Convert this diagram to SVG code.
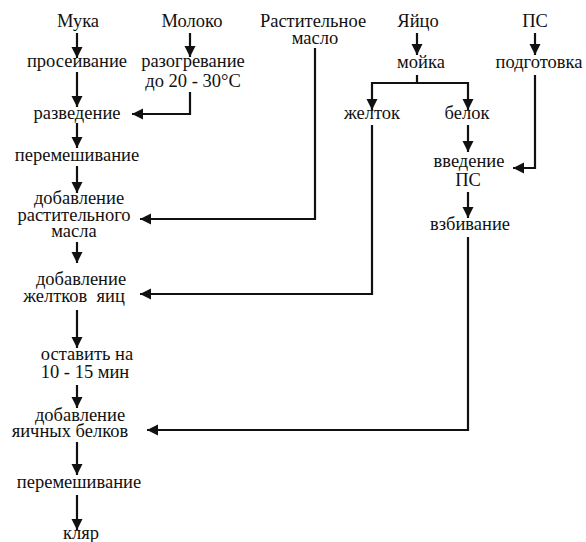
<svg xmlns="http://www.w3.org/2000/svg" width="586" height="542" viewBox="0 0 586 542">
<style>
text{font-family:'Liberation Serif','DejaVu Serif',serif;font-size:18.5px;fill:#111;text-anchor:middle;white-space:pre}
.c path{fill:none;stroke:#111;stroke-width:2.2;marker-end:url(#ah)}
</style>
<defs>
<marker id="ah" markerUnits="userSpaceOnUse" markerWidth="12" markerHeight="12" refX="11" refY="6" orient="auto">
<path d="M0,0.5 L11,6 L0,11.5 z" fill="#111" stroke="none"/>
</marker>
</defs>
<rect width="586" height="542" fill="#fff"/>
<g class="c" id="connectors">
<path d="M77,33 V58"/>
<path d="M190,33 V57"/>
<path d="M77,72 V107"/>
<path d="M190,92 V114 H132"/>
<path d="M77,123 V148"/>
<path d="M77,166 V193"/>
<path d="M315,48 V219 H140"/>
<path d="M77,242 V263"/>
<path d="M417,33 V55"/>
<path d="M417,75 V83 H372 V110"/>
<path d="M417,83 H468 V110"/>
<path d="M535,33 V55"/>
<path d="M535,75 V168 H513"/>
<path d="M468,125 V152"/>
<path d="M372,125 V294 H140"/>
<path d="M468,192 V218"/>
<path d="M468,237 V430 H147"/>
<path d="M77,310 V348"/>
<path d="M77,385 V408"/>
<path d="M77,442 V475"/>
<path d="M77,495 V530"/>
</g>
<g id="muka"><text x="78" y="27">Мука</text></g>
<g id="moloko"><text x="192" y="27">Молоко</text></g>
<g id="maslo"><text x="313" y="27">Растительное</text><text x="315" y="44">масло</text></g>
<g id="yaitso"><text x="418" y="27">Яйцо</text></g>
<g id="ps"><text x="535" y="27">ПС</text></g>
<g id="proseivanie"><text x="77" y="67">просеивание</text></g>
<g id="razogrevanie"><text x="193" y="67">разогревание</text><text x="193" y="87">до 20 - 30°C</text></g>
<g id="moika"><text x="421" y="68">мойка</text></g>
<g id="podgotovka"><text x="539" y="68">подготовка</text></g>
<g id="razvedenie"><text x="77" y="119">разведение</text></g>
<g id="zheltok"><text x="372" y="119">желток</text></g>
<g id="belok"><text x="467" y="119">белок</text></g>
<g id="peremeshivanie1"><text x="77" y="161">перемешивание</text></g>
<g id="vvedenie"><text x="469" y="167">введение</text><text x="468" y="186">ПС</text></g>
<g id="dobavlenie-masla"><text x="79" y="204">добавление</text><text x="74" y="221">растительного</text><text x="74" y="237">масла</text></g>
<g id="vzbivanie"><text x="470" y="230">взбивание</text></g>
<g id="dobavlenie-zheltkov"><text x="81" y="285">добавление</text><text x="74" y="302">желтков  яиц</text></g>
<g id="ostavit"><text x="87" y="360">оставить на</text><text x="85" y="378">10 - 15 мин</text></g>
<g id="dobavlenie-belkov"><text x="80" y="421">добавление</text><text x="70" y="437">яичных белков</text></g>
<g id="peremeshivanie2"><text x="79" y="488">перемешивание</text></g>
<g id="klyar"><text x="81" y="539">кляр</text></g>
</svg>
